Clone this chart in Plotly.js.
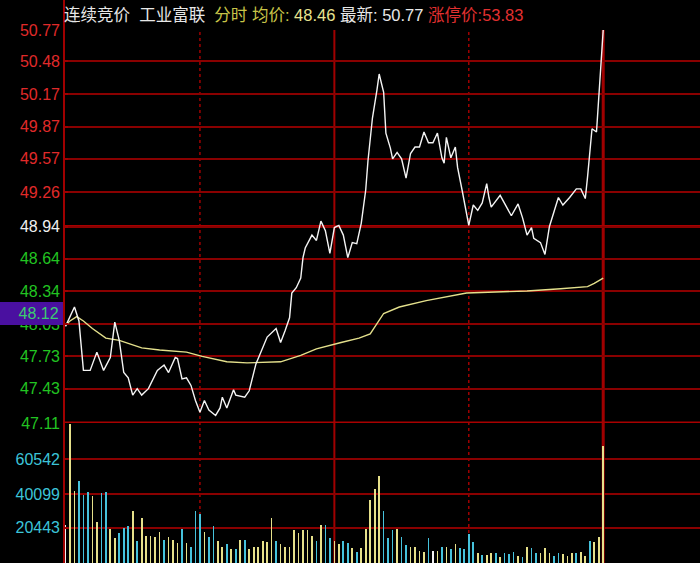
<!DOCTYPE html>
<html>
<head>
<meta charset="utf-8">
<script src="https://cdn.plot.ly/plotly-3.0.1.min.js"></script>
<style>html,body{margin:0;padding:0;background:#000;}#chart{width:700px;height:563px;}</style>
</head>
<body>
<div id="chart"></div>
<script>
// ---- data ----
const priceMinutes = [0,4,6,8,11,14,17,20,22,24,26,28,30,32,34,37,41,44,46,49,50,52,54,56,58,60,62,64,67,69,70,72,75,76,80,82,85,88,90,94,96,98,100,101,103,105,106,107,110,112,114,116,118,120,122,124,126,128,130,132,134,135,137,139,140,142,143,145,146,148,150,152,154,156,158,160,162,164,166,168,169,170,172,174,175,177,180,182,184,186,188,189,190,194,197,199,202,204,206,208,209,212,214,216,220,222,225,228,230,232,233,235,237,238,239,240];
const priceValues = [48.01,48.19,48.06,47.60,47.60,47.77,47.60,47.72,48.05,47.88,47.58,47.53,47.37,47.43,47.37,47.43,47.60,47.65,47.58,47.72,47.71,47.52,47.53,47.46,47.32,47.21,47.32,47.23,47.18,47.25,47.35,47.25,47.42,47.37,47.35,47.41,47.66,47.80,47.91,47.99,47.86,47.97,48.09,48.32,48.37,48.46,48.65,48.74,48.86,48.81,48.99,48.90,48.69,48.93,48.95,48.86,48.65,48.79,48.78,48.97,49.28,49.55,49.95,50.21,50.36,50.19,49.81,49.67,49.57,49.63,49.57,49.39,49.62,49.68,49.68,49.82,49.72,49.72,49.81,49.58,49.53,49.77,49.58,49.68,49.49,49.28,48.95,49.14,49.09,49.16,49.34,49.21,49.12,49.23,49.12,49.04,49.15,49.02,48.86,48.93,48.83,48.79,48.68,48.94,49.21,49.14,49.21,49.29,49.29,49.20,49.40,49.85,49.82,50.15,50.45,50.77];
const avgMinutes = [0,2,5,8,12,18,24,34,42,54,61,72,81,96,105,112,123,131,136,139,142,149,161,179,206,221,233,236,240];
const avgValues  = [48.02,48.06,48.10,48.06,47.99,47.90,47.88,47.81,47.79,47.77,47.73,47.68,47.67,47.68,47.74,47.80,47.86,47.90,47.94,48.04,48.13,48.19,48.25,48.32,48.34,48.36,48.38,48.41,48.46];
// volume, one bar per 2 minutes
const volumes = [22100,80900,41900,47700,39600,41300,39000,23900,40500,41300,19800,14400,17300,20600,21500,30300,12800,26200,15700,15700,15100,18200,13400,15100,13400,11800,19800,11800,9500,30300,28500,18200,15100,21500,12800,9500,11000,8100,8100,13400,13400,8100,9500,9500,12800,12000,26200,12800,11000,9500,9500,19200,17300,19200,19200,15700,12800,22100,22100,14400,12800,11000,12800,11800,8900,6600,8900,20000,36700,43100,50800,30500,14400,19200,20000,15100,10500,9500,9500,7200,6400,14400,7200,7200,9500,9500,8100,11000,8900,8100,16900,12000,5600,4700,4700,5600,5600,3700,5600,5000,6400,4100,3300,9500,8900,5600,5600,8900,5600,4100,5600,5000,4100,5600,5600,6400,4100,12800,12000,15300,68300];
const volumeDir = "wyycccyyccyycccycyyyyycyyycycccyccyycycycyyyyyycyyyyyyyycyccyyccycyyyyycccyccyyyycwycycyccccycyycycccycyccyyyccyyycyycy";
const priceTicks = [50.77,50.48,50.17,49.87,49.57,49.26,48.94,48.64,48.34,48.03,47.73,47.43,47.11];
const priceTickLabels = ["50.77","50.48","50.17","49.87","49.57","49.26","48.94","48.64","48.34","48.03","47.73","47.43","47.11"];
const prevClose = 48.94;
const volTicks = [20443,40099,60542];
const volTickLabels = ["20443","40099","60542"];
const markerPrice = "48.12";
const header = {market:"连续竞价", name:"工业富联", mode:"分时", avgLabel:"均价:", avg:"48.46", lastLabel:"最新:", last:"50.77", limitLabel:"涨停价:", limit:"53.83"};

// ---- rendering ----
const W = 700, H = 563, L = 64, T = 30;
const plotH = H - T;           // 533
const volFrac = 140 / plotH;   // volume panel height fraction
const RED = '#e02a2a', GREEN = '#22c422', WHITE = '#f0f0f0', CYAN = '#3cc4d8';
const dirColor = {w:'#f2f2f2', y:'#e6e08a', c:'#46c2dc'};

const volX = volumes.map((v,i)=>i*2);
const volColors = volumes.map((v,i)=>dirColor[volumeDir[i]] || dirColor.y);

const priceTickText = priceTicks.map((p,i)=>{
  const c = p > prevClose ? RED : (p < prevClose ? GREEN : WHITE);
  return '<span style="color:'+c+'">'+priceTickLabels[i]+'</span>';
});

const traces = [
  {x: avgMinutes, y: avgValues, type:'scatter', mode:'lines', line:{color:'#e4e08c', width:1.4}, xaxis:'x', yaxis:'y', hoverinfo:'skip'},
  {x: priceMinutes, y: priceValues, type:'scatter', mode:'lines', line:{color:'#f4f4f4', width:1.4}, xaxis:'x', yaxis:'y', hoverinfo:'skip'},
  {x: volX, y: volumes, type:'bar', width:0.75, marker:{color: volColors, line:{width:0}}, xaxis:'x', yaxis:'y2', hoverinfo:'skip'}
];

const gridRed = '#8a0000';
const shapes = [];
// left axis line full height
shapes.push({type:'line', xref:'paper', yref:'paper', x0:0, x1:0, y0:0, y1:1+T/plotH, line:{color:'#a00000', width:2}});
// vertical time lines
[[60,'dot',1.5],[120,'solid',2],[180,'dot',1.5],[240,'solid',3]].forEach(v=>{
  shapes.push({type:'line', xref:'x', yref:'paper', x0:v[0], x1:v[0], y0:0, y1:1, line:{color:'#a00000', width:v[2], dash:v[1]}, layer:'below'});
});
// thick prev close line and panel separator
shapes.push({type:'line', xref:'paper', yref:'y', x0:0, x1:1, y0:prevClose, y1:prevClose, line:{color:'#a80000', width:3}, layer:'below'});
shapes.push({type:'line', xref:'paper', yref:'y', x0:0, x1:1, y0:priceTicks[priceTicks.length-1], y1:priceTicks[priceTicks.length-1], line:{color:'#a80000', width:3}, layer:'below'});

const sp = '\u00a0';
const hdr = '<span style="color:#e8e8e8">'+header.market+sp+sp+header.name+sp+sp+'</span>'+
  '<span style="color:#c8c448">'+header.mode+sp+header.avgLabel+sp+'</span>'+
  '<span style="color:#e8e490">'+header.avg+'</span>'+
  '<span style="color:#e8e8e8">'+sp+header.lastLabel+sp+header.last+sp+'</span>'+
  '<span style="color:#e23030">'+header.limitLabel+header.limit+'</span>';

const layout = {
  width: W, height: H,
  margin: {l:L, r:0, t:T, b:0, pad:0},
  paper_bgcolor:'#000', plot_bgcolor:'#000',
  showlegend:false,
  bargap:0,
  font:{family:'Liberation Sans, Arial, "Noto Sans CJK SC", sans-serif', size:16, color:WHITE},
  xaxis:{range:[-0.67, 283.2], showticklabels:false, showgrid:false, zeroline:false, ticks:'', showline:false, anchor:'y2', fixedrange:true},
  yaxis:{domain:[volFrac,1], range:[47.11,50.77], tickvals:priceTicks, ticktext:priceTickText, showgrid:true, gridcolor:gridRed, gridwidth:2, zeroline:false, ticks:'inside', ticklen:4, tickwidth:2, tickcolor:'#a00000', showline:false, tickfont:{size:16}, ticklabelstandoff:3},
  yaxis2:{domain:[0,volFrac], range:[0,81500], tickvals:volTicks, ticktext:volTickLabels, showgrid:true, gridcolor:gridRed, gridwidth:2, zeroline:false, ticks:'inside', ticklen:4, tickwidth:2, tickcolor:'#a00000', showline:false, tickfont:{size:16, color:CYAN}, ticklabelstandoff:3},
  shapes: shapes,
  annotations:[
    {xref:'paper', yref:'paper', x:-2/636, y:1+15/plotH, xanchor:'left', yanchor:'middle', showarrow:false, text:hdr, font:{size:16.5, family:'Liberation Sans, Arial, "Noto Sans CJK SC", sans-serif'}},
    {xref:'paper', yref:'paper', x:-L/636, y:(H-313.5)/plotH, xanchor:'left', yanchor:'middle', showarrow:false, text:markerPrice+sp, align:'right', width:63, height:23, bgcolor:'#4a10a0', borderpad:0, borderwidth:0, font:{size:16, color:'#3ccc70'}}
  ]
};

Plotly.newPlot('chart', traces, layout, {staticPlot:true, displayModeBar:false});
</script>
</body>
</html>
